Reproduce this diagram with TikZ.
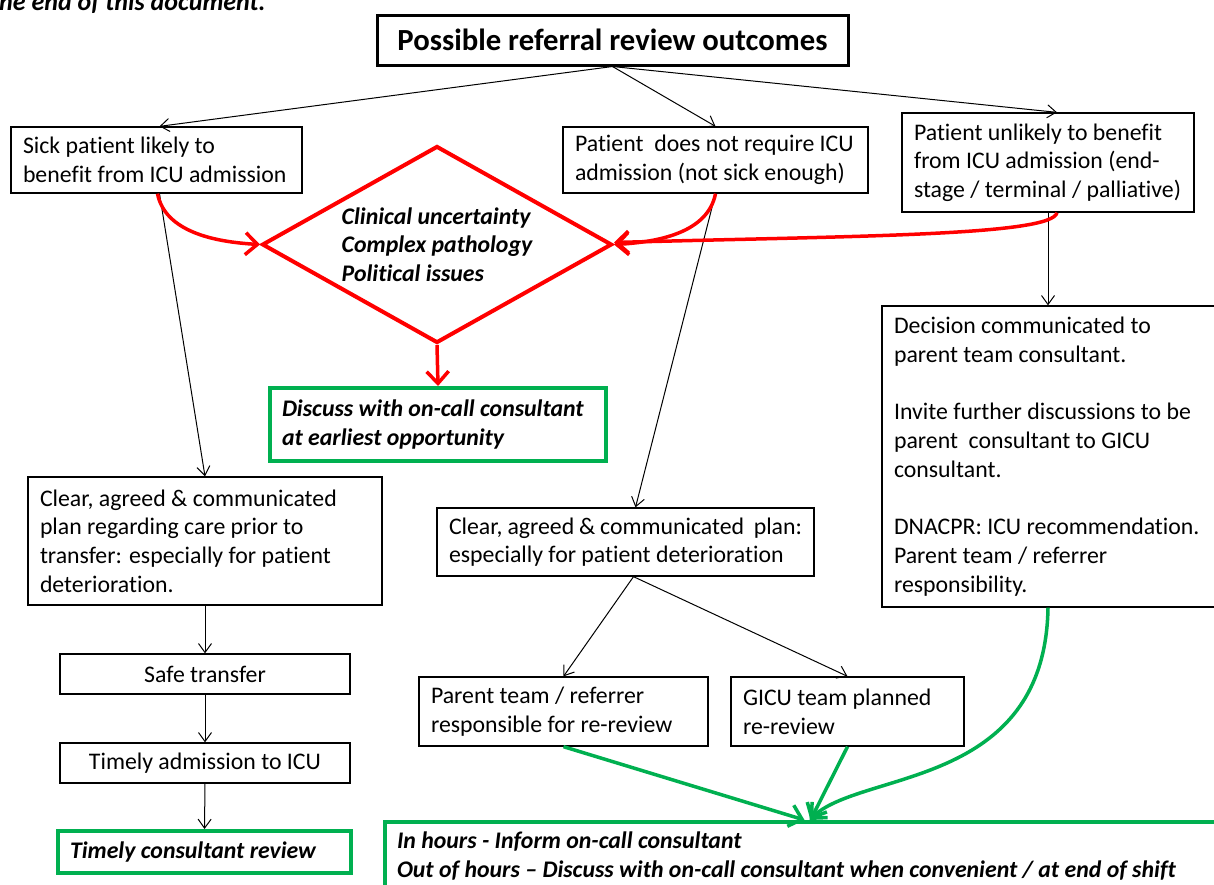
\documentclass[tikz,border=0pt]{standalone}
\usepackage{fontspec}
\setmainfont{Carlito}[Ligatures=NoCommon]
\usetikzlibrary{shapes.geometric,arrows.meta}
\definecolor{ored}{HTML}{FF0000}
\definecolor{ogreen}{HTML}{00B050}
\tikzset{
  x=1pt,y=-1pt,
  body/.style={font=\fontsize{23.8}{28.7}\selectfont},
  box/.style={draw=black,line width=1.3pt,fill=white,body,align=flush left,inner xsep=12pt,inner ysep=0pt},
  cbox/.style={draw=black,line width=1.3pt,fill=white,body,align=center,inner sep=0pt},
  gbox/.style={draw=ogreen,line width=4pt,fill=white,body,align=flush left,inner xsep=12pt,inner ysep=0pt,font=\fontsize{23.8}{28.7}\selectfont\bfseries\itshape},
  barrow/.style={draw=black,line width=1pt,-{Straight Barb[length=9pt,width=13pt,line width=1pt]}},
  rarrow/.style={draw=ored,line width=3.5pt,-{Straight Barb[length=12pt,width=22pt,line width=3.5pt]}},
  garrow/.style={draw=ogreen,line width=3.5pt,-{Straight Barb[length=12pt,width=22pt,line width=3.5pt]}},
}
\begin{document}
\begin{tikzpicture}
\useasboundingbox (0,0) rectangle (1214,884);
\clip (0,0) rectangle (1214,884);
\fill[white] (0,0) rectangle (1214,884);

\node[anchor=base west,font=\fontsize{26}{30}\selectfont\bfseries\itshape,inner sep=0pt] (note) at (-10,10) {the end of this document.};

\node[draw=black,line width=3pt,minimum width=471pt,minimum height=50pt,inner sep=0pt,font=\fontsize{30.7}{34}\selectfont\bfseries] (T) at (612.5,40) {Possible referral review outcomes};

\node[box,minimum width=291pt,minimum height=66pt,text width=267pt] (A) at (156.5,160) {Sick patient likely to\\benefit from ICU admission};
\node[box,minimum width=305pt,minimum height=66pt,text width=281pt] (B) at (715.5,160) {Patient\ \ does not require ICU\\admission (not sick enough)};
\node[box,minimum width=292pt,minimum height=99pt,text width=268pt] (C) at (1048,162.5) {Patient unlikely to benefit\\from ICU admission (end-\\stage / terminal / palliative)};

\node[diamond,draw=ored,line width=4pt,fill=white,shape aspect=1.78,minimum width=350pt,minimum height=197pt,inner sep=0pt,align=flush left,font=\fontsize{23.8}{28.7}\selectfont\bfseries\itshape] (Q) at (437,244.5) {Clinical uncertainty\\Complex pathology\\Political issues};

\node[gbox,minimum width=336pt,minimum height=73pt,text width=312pt] (D) at (438,424.5) {Discuss with on-call consultant\\at earliest opportunity};

\node[box,minimum width=354pt,minimum height=128pt,text width=330pt] (E) at (205,541) {Clear, agreed \& communicated\\plan regarding care prior to\\transfer: especially for patient\\deterioration.};
\node[cbox,minimum width=290pt,minimum height=40pt] (F) at (205,674) {Safe transfer};
\node[cbox,minimum width=290pt,minimum height=40pt] (G) at (205,763) {Timely admission to ICU};
\node[gbox,minimum width=293pt,minimum height=42pt,text width=269pt] (H) at (204.5,852) {Timely consultant review};

\node[box,minimum width=377pt,minimum height=68pt,text width=353pt] (I) at (625.5,542) {Clear, agreed \& communicated\ \ plan:\\especially for patient deterioration};
\node[box,minimum width=289pt,minimum height=69pt,text width=265pt] (J) at (563.5,711.5) {Parent team / referrer\\responsible for re-review};
\node[box,minimum width=233pt,minimum height=69pt,text width=209pt] (K) at (847.5,711.5) {GICU team planned\\re-review};

\node[box,minimum width=343pt,minimum height=301pt,text width=319pt] (L) at (1053.5,456.5) {Decision communicated to\\parent team consultant.\\[28.7pt]Invite further discussions to be\\parent\ \ consultant to GICU\\consultant.\\[28.7pt]DNACPR: ICU recommendation.\\Parent team / referrer\\responsibility.};

\node[gbox,minimum width=847pt,minimum height=94pt,text width=823pt,anchor=north west,inner ysep=1pt] (M) at (383,820) {In hours - Inform on-call consultant\\Out of hours -- Discuss with on-call consultant when convenient / at end of shift\\\mbox{}};

% black arrows
\draw[barrow] (T.south) -- ([xshift=3pt]A.north);
\draw[barrow] (T.south) -- (B.north);
\draw[barrow] (T.south) -- ([xshift=9pt]C.north);
\draw[barrow] ([xshift=3pt]A.south) -- (E.north);
\draw[barrow] (B.south) -- ([xshift=10pt]I.north);
\draw[barrow] (C.south) -- (C.south |- L.north);
\draw[barrow] (E.south) -- (F.north);
\draw[barrow] (F.south) -- (G.north);
\draw[barrow] (G.south) -- (H.north);
\draw[barrow] ([xshift=8pt]I.south) -- (J.north);
\draw[barrow] ([xshift=8pt]I.south) -- (K.north);

% red arrows
\draw[rarrow] ([xshift=1pt]A.south) .. controls (165,232) and (215,242) .. (Q.west);
\draw[rarrow] (B.south) .. controls (708,232) and (660,242) .. (Q.east);
\draw[rarrow] ([xshift=9pt]C.south) .. controls (1052,236) and (850,236) .. ([yshift=2pt]Q.east);
\draw[rarrow] (Q.south) -- (D.north);

% green arrows
\draw[garrow] (J.south) -- ([xshift=-4pt]M.north);
\draw[garrow] (K.south) -- ([xshift=2pt]M.north);
\draw[garrow] (C.south |- L.south) .. controls (1045,790) and (860,770) .. ([xshift=1pt]M.north);
\end{tikzpicture}
\end{document}
